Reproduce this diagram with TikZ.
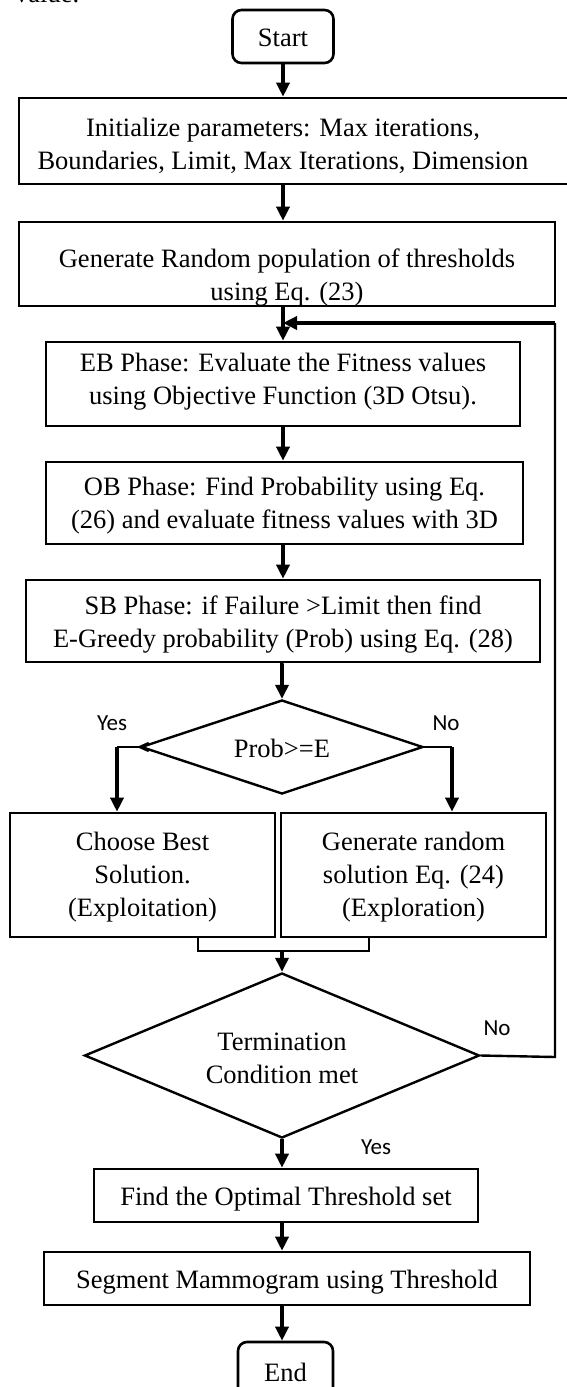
\documentclass[tikz,border=0pt]{standalone}
\usepackage{fontspec}
\setmainfont{Liberation Serif}
\newfontfamily\labfont{Carlito}
\usetikzlibrary{shapes.geometric,arrows.meta}
\begin{document}
\begin{tikzpicture}[x=1pt,y=-1pt,
 box/.style={draw,line width=2.6pt,inner sep=0pt,rectangle},
 rbox/.style={box,rounded corners=9pt},
 dia/.style={draw,line width=2.4pt,diamond,inner sep=0pt},
 txt/.style={font=\fontsize{26.5}{33}\selectfont,align=center,inner sep=0pt},
 lab/.style={font=\labfont\fontsize{23}{27}\selectfont,inner sep=0pt},
 arr/.style={line width=3.4pt,-{Triangle[length=14pt,width=13pt]}},
 ln/.style={line width=2.4pt}]
\useasboundingbox (0,0) rectangle (566,1387);

\node[txt,anchor=base west] (frag) at (15,2) {value.};

% boxes
\node[rbox,minimum width=101pt,minimum height=53pt] (start) at (283,36.5) {};
\node[box,minimum width=553pt,minimum height=86pt] (init) at (295.5,141) {};
\node[box,minimum width=536pt,minimum height=84pt] (gen) at (287,264) {};
\node[box,minimum width=474pt,minimum height=84pt] (eb) at (283,384) {};
\node[box,minimum width=477pt,minimum height=82pt] (ob) at (284.5,503) {};
\node[box,minimum width=514pt,minimum height=82pt] (sb) at (283,621) {};
\node[dia,minimum width=282pt,minimum height=94pt] (d1) at (282,747) {};
\node[box,minimum width=265pt,minimum height=124pt] (choose) at (142.5,875) {};
\node[box,minimum width=265pt,minimum height=124pt] (gen2) at (413.5,875) {};
\node[dia,minimum width=395pt,minimum height=165pt] (term) at (282,1055.5) {};
\node[box,minimum width=384pt,minimum height=53pt] (find) at (286,1195.5) {};
\node[box,minimum width=486pt,minimum height=53pt] (seg) at (287,1278.5) {};
\node[rbox,minimum width=95pt,minimum height=60pt] (end) at (285.5,1372) {};

% texts
\node[txt] (tstart) at (283,38) {Start};
\node[txt] (tinit) at (283,146) {Initialize parameters: Max iterations,\\Boundaries, Limit, Max Iterations, Dimension};
\node[txt] (tgen) at (287,278) {Generate Random population of thresholds\\using Eq. (23)};
\node[txt] (teb) at (283,382) {EB Phase: Evaluate the Fitness values\\using Objective Function (3D Otsu).};
\node[txt] (tob) at (284.5,506) {OB Phase: Find Probability using Eq.\\(26) and evaluate fitness values with 3D};
\node[txt] (tsb) at (283,625) {SB Phase: if Failure >Limit then find\\E-Greedy probability (Prob) using Eq. (28)};
\node[txt] (td1) at (282,748) {Prob>=E};
\node[txt] (tchoose) at (142.5,877) {Choose Best\\Solution.\\(Exploitation)};
\node[txt] (tgen2) at (413.5,877) {Generate random\\solution Eq. (24)\\(Exploration)};
\node[txt] (tterm) at (282,1058) {Termination\\Condition met};
\node[txt] (tfind) at (286,1199) {Find the Optimal Threshold set};
\node[txt] (tseg) at (287,1282) {Segment Mammogram using Threshold};
\node[txt] (tend) at (285.5,1372) {End};

% labels
\node[lab] (yes1) at (112,723) {Yes};
\node[lab] (no1) at (446,723) {No};
\node[lab] (no2) at (497,1028) {No};
\node[lab] (yes2) at (376,1147) {Yes};

% main arrows
\draw[arr] (start.south) -- (start.south |- init.north);
\draw[arr] (start.south |- init.south) -- (start.south |- gen.north);
\draw[arr] (start.south |- gen.south) -- (eb.north);
\draw[arr] (eb.south) -- (eb.south |- ob.north);
\draw[arr] (eb.south |- ob.south) -- (sb.north);
\draw[arr] (sb.south) -- (sb.south -| d1.north) -- (d1.north);

% decision branches
\coordinate (cl) at (117,747);
\coordinate (cr) at (452,747);
\draw[ln] (d1.west) -- (cl);
\draw[arr] (cl) -- (cl |- choose.north);
\draw[ln] (d1.east) -- (cr);
\draw[arr] (cr) -- (cr |- gen2.north);
\draw[ln] ([xshift=9pt,yshift=4pt]d1.west) -- (d1.west) -- ([xshift=9pt,yshift=-4pt]d1.west);

% merge
\coordinate (j1) at (198,951);
\coordinate (j2) at (369,951);
\draw[line width=2pt] (j1 |- choose.south) -- (j1) -- (j2) -- (j2 |- gen2.south);
\draw[arr] (term.north |- j1) -- (term.north);

% feedback loop
\coordinate (f1) at (555,1057);
\coordinate (f2) at (555,323);
\draw[ln] (term.east) -- (f1) -- (f2);
\draw[arr] (f2) -- (eb.north |- f2);

% bottom
\draw[arr] (term.south) -- (term.south |- find.north);
\draw[arr] (term.south |- find.south) -- (term.south |- seg.north);
\draw[arr] (term.south |- seg.south) -- (term.south |- end.north);
\end{tikzpicture}
\end{document}
